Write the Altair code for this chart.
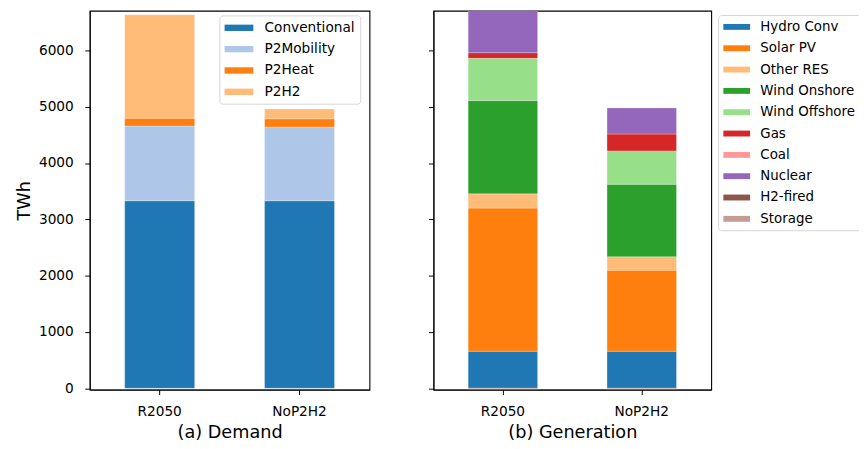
import altair as alt
import pandas as pd

scenarios = ["R2050", "NoP2H2"]

demand_categories = ["Conventional", "P2Mobility", "P2Heat", "P2H2"]
demand_colors = ["#1f77b4", "#aec7e8", "#ff7f0e", "#ffbb78"]
demand_r2050 = [3329, 1327, 141, 1837]
demand_nop2h2 = [3329, 1309, 147, 176]

gen_categories = ["Hydro Conv", "Solar PV", "Other RES", "Wind Onshore",
                  "Wind Offshore", "Gas", "Coal", "Nuclear", "H2-fired", "Storage"]
gen_colors = ["#1f77b4", "#ff7f0e", "#ffbb78", "#2ca02c", "#98df8a",
              "#d62728", "#ff9896", "#9467bd", "#8c564b", "#c49c94"]
gen_r2050 = [657, 2542, 253, 1656, 751, 100, 0, 1000, 0, -15]
gen_nop2h2 = [657, 1439, 240, 1286, 593, 300, 0, 463, 0, -15]

y_ticks = [0, 1000, 2000, 3000, 4000, 5000, 6000]
y_domain = [-25, 6704]

FONT = "DejaVu Sans"
LBL = 13.8
TTL = 17.8


def build(categories, series):
    rows = []
    for scen, vals in zip(scenarios, series):
        for i, (c, v) in enumerate(zip(categories, vals)):
            if v != 0:
                rows.append({"scenario": scen, "category": c, "value": v, "order": i})
    return pd.DataFrame(rows)


df_d = build(demand_categories, [demand_r2050, demand_nop2h2])
df_g = build(gen_categories, [gen_r2050, gen_nop2h2])


def legend(x, y, font_size, sym_w, gap):
    half = sym_w / 2.0
    return alt.Legend(
        title=None,
        orient="none",
        legendX=x,
        legendY=y,
        symbolType="M-2,-0.44H2V0.44H-2Z",
        symbolSize=half * half,
        symbolOffset=half / 2.0,
        labelOffset=sym_w + gap - half / 2.0 - half,
        symbolStrokeWidth=0,
        rowPadding=21 - max(half, font_size),
        padding=5,
        strokeColor="#d6d6d6",
        fillColor="white",
        cornerRadius=3,
        labelFont=FONT,
        labelFontSize=font_size,
        labelColor="black",
    )


x_common = dict(labelAngle=0, tickSize=5, labelPadding=10.5, titlePadding=5,
                labelFontSize=LBL, titleFontSize=TTL, labelFont=FONT,
                titleFont=FONT, titleFontWeight="normal", labelColor="black",
                titleColor="black", domainColor="black", tickColor="black")

bar_kwargs = dict(clip=True, stroke="white", strokeWidth=0.5, strokeOpacity=0.5)

left = alt.Chart(df_d).mark_bar(**bar_kwargs).encode(
    x=alt.X("scenario:N", sort=scenarios,
            scale=alt.Scale(paddingInner=0.5, paddingOuter=0.25),
            axis=alt.Axis(title="(a) Demand", **x_common)),
    y=alt.Y("value:Q", stack="zero",
            scale=alt.Scale(domain=y_domain, nice=False, zero=False),
            axis=alt.Axis(values=y_ticks, format="d", title="TWh", tickSize=5,
                          labelPadding=11.6, titlePadding=4.9, grid=False,
                          labelFontSize=LBL, titleFontSize=TTL, labelFont=FONT,
                          titleFont=FONT, titleFontWeight="normal",
                          labelColor="black", titleColor="black",
                          domainColor="black", tickColor="black")),
    color=alt.Color("category:N",
                    scale=alt.Scale(domain=demand_categories, range=demand_colors),
                    legend=legend(130.7, 4.7, LBL, 29, 11)),
    order=alt.Order("order:Q"),
).properties(width=282, height=382)

right = alt.Chart(df_g).mark_bar(**bar_kwargs).encode(
    x=alt.X("scenario:N", sort=scenarios,
            scale=alt.Scale(paddingInner=0.5, paddingOuter=0.25),
            axis=alt.Axis(title="(b) Generation", **x_common)),
    y=alt.Y("value:Q", stack="zero",
            scale=alt.Scale(domain=y_domain, nice=False, zero=False),
            axis=alt.Axis(values=y_ticks, title=None, labels=False, tickSize=5,
                          grid=False, domainColor="black", tickColor="black")),
    color=alt.Color("category:N",
                    scale=alt.Scale(domain=gen_categories, range=gen_colors),
                    legend=legend(287, 4.3, 13.5, 27, 10)),
    order=alt.Order("order:Q"),
).properties(width=280, height=382)

chart = alt.hconcat(left, right, spacing=56.5).resolve_scale(
    color="independent", y="independent"
).resolve_legend(color="independent").configure_view(
    stroke="black", strokeWidth=1.1
).properties(
    padding={"left": 6.4, "top": 0, "right": -3.5, "bottom": -1}
)

chart.save("out.html", embed_options={"renderer": "svg", "actions": False})
